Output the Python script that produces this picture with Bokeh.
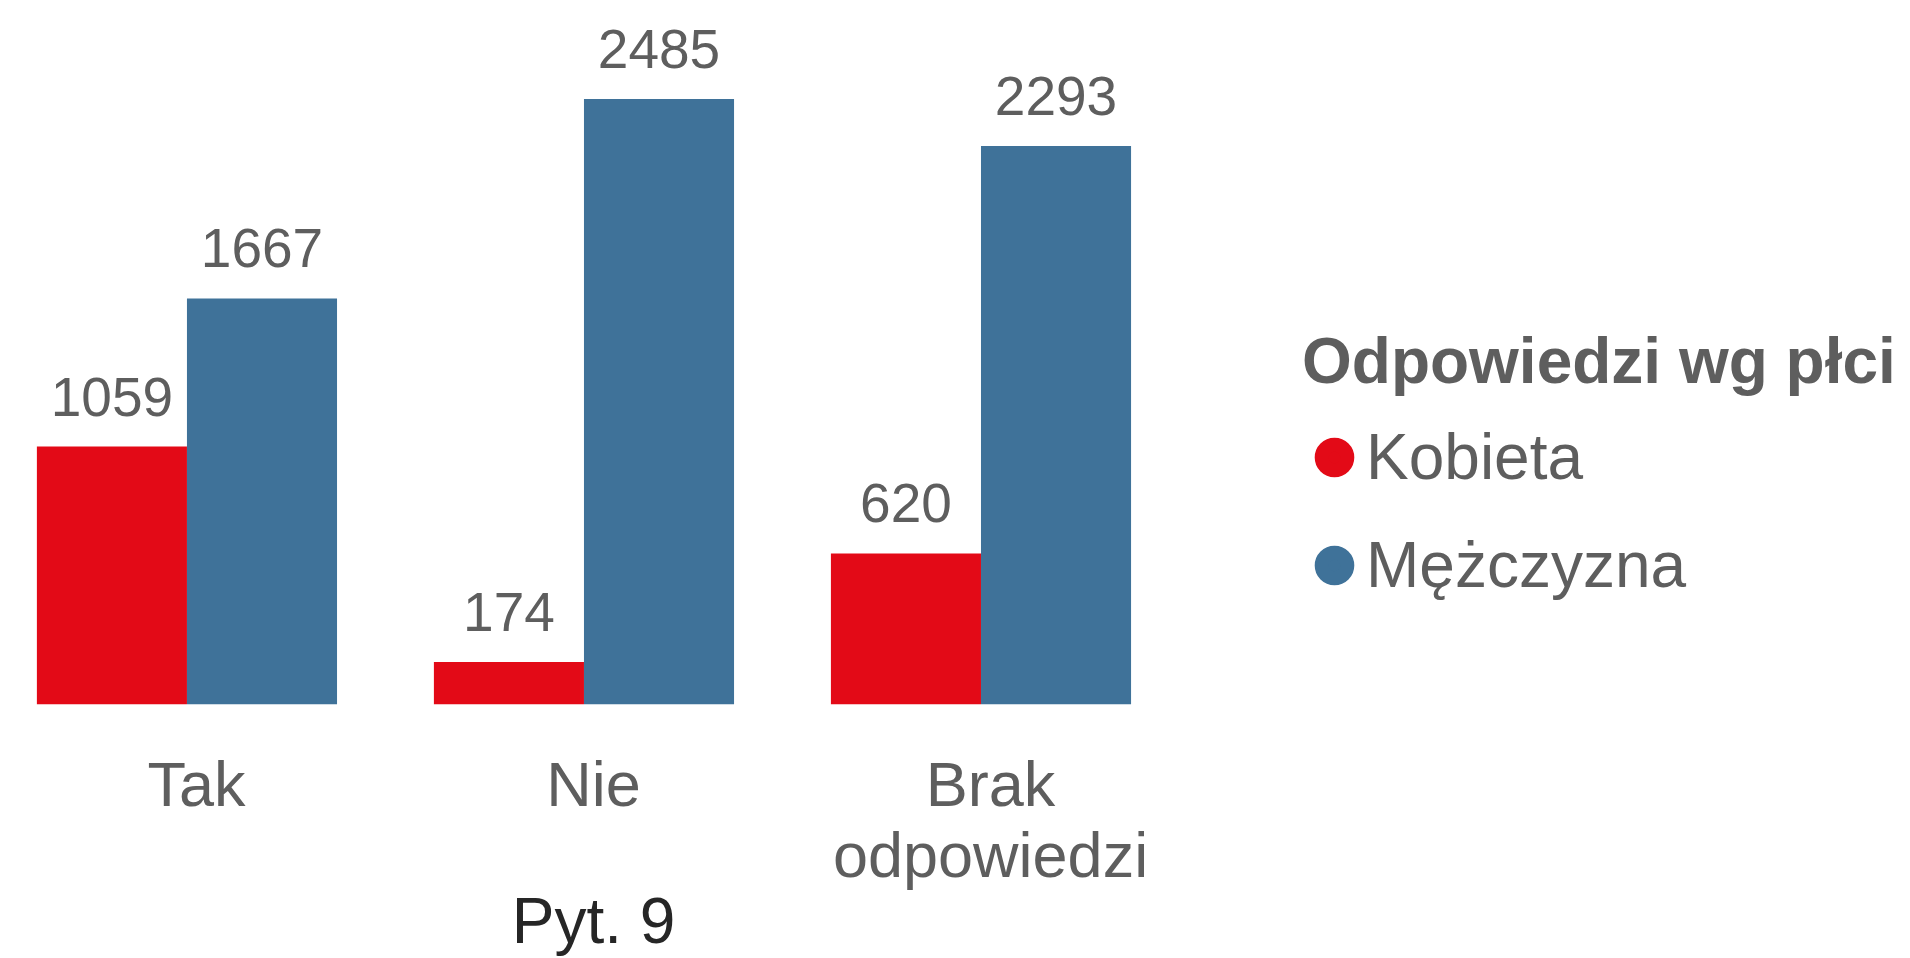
from bokeh.plotting import figure
from bokeh.models import ColumnDataSource, FactorRange, Range1d, Legend, LegendItem
from bokeh.transform import dodge
from bokeh.core.properties import value
from bokeh.embed import file_html
from bokeh.resources import INLINE

# ---- data ----
categories = ["Tak", "Nie", "Brak\nodpowiedzi"]
kobieta = [1059, 174, 620]
mezczyzna = [1667, 2485, 2293]
series_names = ["Kobieta", "Mężczyzna"]
legend_title = "Odpowiedzi wg płci"
x_title = "Pyt. 9"

RED = "#E30A17"
BLUE = "#3F7299"
GRAY = "#5E5E5E"
FONT = "Liberation Sans"

src = ColumnDataSource(dict(
    cat=categories,
    kob=kobieta,
    mez=mezczyzna,
    kob_lbl=[str(v) for v in kobieta],
    mez_lbl=[str(v) for v in mezczyzna],
))

p = figure(
    x_range=FactorRange(factors=categories, range_padding=-0.0265, range_padding_units="absolute"),
    y_range=Range1d(0, 2857),
    frame_width=1170, frame_height=696,
    min_border_left=8, min_border_top=8, min_border_right=130, min_border_bottom=0,
    y_axis_location=None,
    output_backend="svg", toolbar_location=None,
    outline_line_color=None,
)
p.xgrid.visible = False
p.ygrid.visible = False

bw = 0.378
r_off = -0.213
b_off = 0.165

p.vbar(x=dodge("cat", r_off, range=p.x_range), top="kob", width=bw, source=src,
       fill_color=RED, line_color=None)
p.vbar(x=dodge("cat", b_off, range=p.x_range), top="mez", width=bw, source=src,
       fill_color=BLUE, line_color=None)

p.text(x=dodge("cat", r_off, range=p.x_range), y="kob", text="kob_lbl", source=src,
       y_offset=-50, text_align="center", text_baseline="alphabetic",
       text_font=value(FONT), text_font_size="55px", text_color=GRAY)
p.text(x=dodge("cat", b_off, range=p.x_range), y="mez", text="mez_lbl", source=src,
       y_offset=-50, text_align="center", text_baseline="alphabetic",
       text_font=value(FONT), text_font_size="55px", text_color=GRAY)

ax = p.xaxis[0]
ax.axis_line_color = None
ax.major_tick_line_color = None
ax.minor_tick_line_color = None
ax.major_tick_out = 0
ax.major_tick_in = 0
ax.major_label_standoff = 44
ax.major_label_text_font = FONT
ax.major_label_text_font_size = "63px"
ax.major_label_text_color = GRAY
ax.major_label_text_line_height = 1.02
ax.axis_label = x_title
ax.axis_label_text_font = FONT
ax.axis_label_text_font_size = "64px"
ax.axis_label_text_font_style = "normal"
ax.axis_label_text_color = "#262626"
ax.axis_label_standoff = -8

# legend-only renderers (zero-size markers, only their legend glyph is visible)
proxy = ColumnDataSource(dict(x=[categories[0]], y=[0]))
lr1 = p.scatter(x="x", y="y", source=proxy, size=0, marker="circle",
                fill_color=RED, line_color=RED, line_width=14)
lr2 = p.scatter(x="x", y="y", source=proxy, size=0, marker="circle",
                fill_color=BLUE, line_color=BLUE, line_width=14)

legend = Legend(
    items=[LegendItem(label=series_names[0], renderers=[lr1]),
           LegendItem(label=series_names[1], renderers=[lr2])],
    location=(124, 90),
    title=legend_title,
    title_text_font=FONT, title_text_font_size="64px", title_text_font_style="bold",
    title_text_color=GRAY, title_standoff=10,
    glyph_width=64, glyph_height=98, label_height=98,
    label_standoff=0, spacing=10, padding=0, margin=0,
    label_text_font=FONT, label_text_font_size="64px", label_text_color=GRAY,
    label_text_baseline="middle",
    border_line_color=None, background_fill_alpha=0,
)
p.add_layout(legend, "right")

open("out.html", "w").write(file_html(p, INLINE))
